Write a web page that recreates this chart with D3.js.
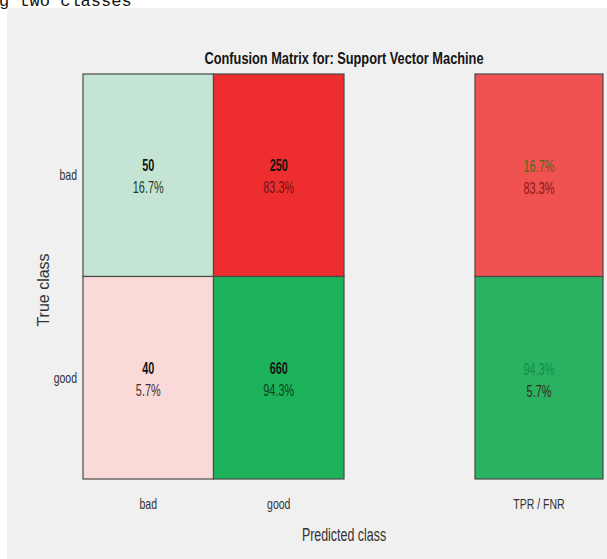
<!DOCTYPE html>
<html>
<head>
<meta charset="utf-8">
<script src="https://cdn.jsdelivr.net/npm/d3@7"></script>
<style>
  html, body { margin: 0; padding: 0; background: #ffffff; }
  svg { display: block; }
</style>
</head>
<body>
<svg id="chart" width="607" height="559"></svg>
<script>
// Confusion matrix data for the SVM classifier
const classes = ["bad", "good"];
const counts = [[50, 250], [40, 660]];          // rows = true class, cols = predicted class
const rowPercents = [[16.7, 83.3], [5.7, 94.3]];
const summaryLabel = ["TPR / FNR"];
const tpr = [16.7, 94.3];
const fnr = [83.3, 5.7];
const title = "Confusion Matrix for: Support Vector Machine";

const sans = "'Liberation Sans', Arial, sans-serif";

// condense a text selection horizontally by a ratio of its natural width
function squeeze(sel, ratio) {
  sel.each(function () {
    const len = this.getComputedTextLength();
    d3.select(this).attr("textLength", len * ratio).attr("lengthAdjust", "spacingAndGlyphs");
  });
}

const svg = d3.select("#chart");

// page text above the figure, clipped by the top edge
svg.append("text")
  .attr("x", -1).attr("y", 6)
  .attr("font-family", "'Liberation Mono', 'DejaVu Sans Mono', monospace")
  .attr("font-size", 17)
  .attr("fill", "#111")
  .text("g two classes");

// figure background
svg.append("rect")
  .attr("x", 7).attr("y", 8).attr("width", 600).attr("height", 551)
  .attr("fill", "#f0f0f0");

const x = d3.scaleBand().domain(classes).range([83, 344]);
const y = d3.scaleBand().domain(classes).range([74, 479]);
const xs = d3.scaleBand().domain(summaryLabel).range([475, 603]);

// cell colours: diagonal cells shade green, off-diagonal cells shade red
const greenShade = d3.scaleLinear().domain([16.7, 94.3]).range(["#c4e5d4", "#1db35b"]);
const redShade = d3.scaleLinear().domain([5.7, 83.3]).range(["#f9dad8", "#ee2e2e"]);
const cellFill = (r, c) => r === c ? greenShade(rowPercents[r][c]) : redShade(rowPercents[r][c]);
const pctColor = (r, c) => {
  if (r === c) return rowPercents[r][c] > 50 ? "#123d22" : "#1c3a2a";
  return rowPercents[r][c] > 50 ? "#6e1414" : "#4a2a2a";
};

const cells = [];
classes.forEach((t, r) => classes.forEach((p, c) => cells.push({ t, p, r, c })));

const g = svg.append("g");
g.selectAll("rect.cell").data(cells).join("rect")
  .attr("class", "cell")
  .attr("x", d => x(d.p)).attr("y", d => y(d.t))
  .attr("width", x.bandwidth()).attr("height", y.bandwidth())
  .attr("fill", d => cellFill(d.r, d.c))
  .attr("stroke", "#4a4a4a").attr("stroke-width", 1.2);

g.selectAll("text.count").data(cells).join("text")
  .attr("class", "count")
  .attr("x", d => x(d.p) + x.bandwidth() / 2)
  .attr("y", d => y(d.t) + y.bandwidth() / 2 - 4)
  .attr("text-anchor", "middle")
  .attr("font-family", sans).attr("font-weight", "bold").attr("font-size", 16)
  .attr("fill", "#141414")
  .text(d => counts[d.r][d.c])
  .call(squeeze, 0.68);

g.selectAll("text.pct").data(cells).join("text")
  .attr("class", "pct")
  .attr("x", d => x(d.p) + x.bandwidth() / 2)
  .attr("y", d => y(d.t) + y.bandwidth() / 2 + 18)
  .attr("text-anchor", "middle")
  .attr("font-family", sans).attr("font-size", 17)
  .attr("fill", d => pctColor(d.r, d.c))
  .text(d => rowPercents[d.r][d.c].toFixed(1) + "%")
  .call(squeeze, 0.64);

// summary column: true positive rate / false negative rate per true class
const summaryFill = d3.scaleLinear().domain([16.7, 94.3]).range(["#f05151", "#2ab262"]);
const summary = classes.map((t, r) => ({ t, r, tpr: tpr[r], fnr: fnr[r] }));
const sg = svg.append("g");
sg.selectAll("rect").data(summary).join("rect")
  .attr("x", xs(summaryLabel[0])).attr("y", d => y(d.t))
  .attr("width", xs.bandwidth()).attr("height", y.bandwidth())
  .attr("fill", d => summaryFill(d.tpr))
  .attr("stroke", "#4a4a4a").attr("stroke-width", 1.2);

sg.selectAll("text.tpr").data(summary).join("text")
  .attr("class", "tpr")
  .attr("x", xs(summaryLabel[0]) + xs.bandwidth() / 2)
  .attr("y", d => y(d.t) + y.bandwidth() / 2 - 3)
  .attr("text-anchor", "middle")
  .attr("font-family", sans).attr("font-size", 17)
  .attr("fill", d => d.r === 0 ? "#4d6a1c" : "#178a45")
  .text(d => d.tpr.toFixed(1) + "%")
  .call(squeeze, 0.64);

sg.selectAll("text.fnr").data(summary).join("text")
  .attr("class", "fnr")
  .attr("x", xs(summaryLabel[0]) + xs.bandwidth() / 2)
  .attr("y", d => y(d.t) + y.bandwidth() / 2 + 19)
  .attr("text-anchor", "middle")
  .attr("font-family", sans).attr("font-size", 17)
  .attr("fill", d => d.r === 0 ? "#8a1717" : "#2f2a18")
  .text(d => d.fnr.toFixed(1) + "%")
  .call(squeeze, 0.64);

// axes
const axisStyle = sel => {
  sel.select(".domain").remove();
  sel.selectAll(".tick line").remove();
  sel.selectAll(".tick text")
    .attr("font-family", sans).attr("font-size", 15).attr("fill", "#333")
    .call(squeeze, 0.7);
};
svg.append("g").attr("transform", "translate(0,479)")
  .call(d3.axisBottom(x).tickSize(0).tickPadding(19)).call(axisStyle);
svg.append("g").attr("transform", "translate(0,479)")
  .call(d3.axisBottom(xs).tickSize(0).tickPadding(19)).call(axisStyle);
svg.append("g").attr("transform", "translate(83,0)")
  .call(d3.axisLeft(y).tickSize(0).tickPadding(6)).call(axisStyle);

// title and axis titles
svg.append("text")
  .attr("x", 344).attr("y", 64).attr("text-anchor", "middle")
  .attr("font-family", sans).attr("font-weight", "bold").attr("font-size", 17)
  .attr("fill", "#141414")
  .attr("textLength", 279).attr("lengthAdjust", "spacingAndGlyphs")
  .text(title);

svg.append("text")
  .attr("x", 344).attr("y", 541).attr("text-anchor", "middle")
  .attr("font-family", sans).attr("font-size", 18)
  .attr("fill", "#333")
  .text("Predicted class")
  .call(squeeze, 0.69);

svg.append("text")
  .attr("transform", "translate(49,290) rotate(-90)")
  .attr("text-anchor", "middle")
  .attr("font-family", sans).attr("font-size", 16)
  .attr("fill", "#333")
  .text("True class");
</script>
</body>
</html>
